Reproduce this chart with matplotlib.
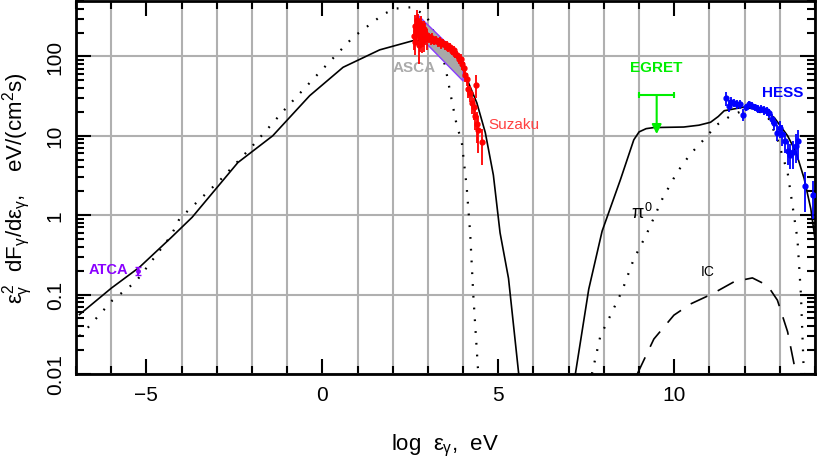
import numpy as np
import matplotlib.pyplot as plt
from matplotlib.ticker import FixedLocator, LogLocator, NullFormatter

plt.rcParams['font.family'] = ['Liberation Sans', 'DejaVu Sans']
plt.rcParams['mathtext.fontset'] = 'custom'
plt.rcParams['mathtext.rm'] = 'Liberation Sans'
plt.rcParams['mathtext.it'] = 'Liberation Sans'

# model curves (log10 E in eV, flux in eV/(cm^2 s))
tot_lo_x = [-6.9, -6.0, -5.2, -4.3, -3.7, -2.4, -1.41, -0.36, 0.59, 1.11, 1.63, 2.58, 3.06,
            3.63, 3.91, 4.15, 4.39, 4.63, 4.86, 5.05, 5.29, 5.58]
tot_lo_y = [0.056, 0.12, 0.22, 0.52, 0.94, 4.6, 10, 32, 73, 94, 121, 158, 157,
            124, 88, 47, 26, 11, 3.2, 0.6, 0.16, 0.01]
tot_hi_x = [7.19, 7.57, 7.95, 8.47, 8.85, 9.0, 9.2, 9.42, 10.27, 10.7, 11.03, 11.25, 11.42,
            11.98, 12.55, 12.84, 13.22, 13.46, 13.69, 13.88, 14.0]
tot_hi_y = [0.01, 0.117, 0.63, 2.8, 8.9, 11.2, 12.3, 12.7, 12.9, 13.6, 14.8, 17.5, 20.7,
            23, 20.7, 17, 10, 6.2, 2.9, 1.2, 0.5]
syn_x = [-6.9, -6.67, -5.96, -5.3, -4.3, -4.06, -2.92, -1.98, -1.03, -0.08, 0.87, 1.73,
         2.06, 2.54, 2.96, 3.30, 3.49, 3.67, 3.82, 3.96, 4.10, 4.20, 4.29, 4.42, 4.45]
syn_y = [0.03, 0.038, 0.085, 0.145, 0.55, 0.9, 2.72, 7.5, 22.4, 63, 174, 339,
         400, 417, 324, 151, 76, 29, 13.5, 8.5, 2.3, 0.6, 0.098, 0.012, 0.01]
pi0_x = [7.66, 7.9, 8.19, 8.52, 8.85, 9.2, 9.66, 10.08, 10.46, 10.94, 11.18, 11.6,
         12.17, 12.65, 12.93, 13.22, 13.36, 13.5, 13.6, 13.67, 13.69]
pi0_y = [0.01, 0.03, 0.055, 0.112, 0.28, 0.56, 1.6, 3.47, 5.9, 10, 13.5, 17.8,
         22.9, 17.8, 9.1, 3.47, 1.32, 0.5, 0.098, 0.014, 0.01]
ic_x = [8.95, 9.42, 9.99, 10.46, 11.08, 11.70, 12.22, 12.65, 12.93, 13.22, 13.41, 13.45]
ic_y = [0.01, 0.0275, 0.055, 0.076, 0.102, 0.145, 0.162, 0.13, 0.085, 0.034, 0.0129, 0.01]

# data
atca_x, atca_y, atca_err = [-5.25], [0.2], [0.025]
asca_band_x = [2.69, 4.0, 4.0, 2.92]
asca_band_y = [339, 92.5, 49, 151]
suz_x = [2.60, 2.62, 2.64, 2.66, 2.68, 2.70, 2.72, 2.74, 2.76, 2.78, 2.80, 2.82,
         2.84, 2.86, 2.88, 2.90, 2.93, 2.96,
         2.98, 3.03, 3.08, 3.13, 3.18, 3.23, 3.28, 3.33, 3.38, 3.43, 3.48, 3.53,
         3.58, 3.63, 3.68, 3.73, 3.78, 3.83, 3.88, 3.93, 3.98, 4.03, 4.06, 4.10,
         4.15, 4.20, 4.25, 4.30, 4.34, 4.37, 4.39, 4.41, 4.53]
suz_y = [180, 240, 150, 210, 290, 200, 260, 140, 230, 175, 250, 210,
         160, 190, 220, 165, 200, 170,
         180, 172, 165, 170, 158, 162, 150, 155, 143, 148, 138, 140,
         128, 132, 118, 120, 108, 104, 92, 94, 80, 72, 58, 52,
         39, 35, 26, 23, 18, 44, 14, 12, 8.3]
suz_err = [60, 90, 45, 70, 90, 60, 80, 60, 70, 60, 70, 70,
           50, 60, 60, 50, 60, 50,
           30, 25, 25, 25, 20, 20, 20, 20, 18, 18, 18, 16,
           15, 15, 14, 14, 13, 12, 12, 12, 12, 12, 10, 10,
           9, 8, 7, 7, 6, 14, 6, 6, 4]
egret_x, egret_lo, egret_hi = 9.5, 9.0, 10.0
egret_ul, egret_end = 32.6, 10.5
hess_x = [11.48, 11.55, 11.62, 11.70, 11.78, 11.87, 11.94, 12.03, 12.12, 12.20, 12.28,
          12.37, 12.46, 12.55, 12.63, 12.70, 12.77, 12.84, 12.92, 13.00, 13.07, 13.14,
          13.22, 13.30, 13.38, 13.46, 13.53, 13.72, 13.93]
hess_y = [30, 24, 27, 26, 25, 25, 18.5, 23, 25, 24, 23,
          22, 22, 21, 20.5, 19.5, 16.5, 14.5, 11, 12.5, 10.5, 8.5,
          6.5, 5.8, 6.2, 7.5, 8.5, 2.3, 1.8]
hess_err = [6, 4, 4, 3, 3, 3, 3, 2.5, 2.5, 2.5, 2.5,
            2.5, 2.5, 2.5, 2.5, 2.5, 2.5, 2.5, 2.5, 3, 3, 2.5,
            2.2, 2.0, 2.4, 3, 3.5, 1.2, 0.9]

fig = plt.figure(figsize=(8.17, 4.64), dpi=100)
ax = fig.add_axes([0.093, 0.192, 0.9046, 0.8038])

ax.plot(tot_lo_x, tot_lo_y, color='black', lw=1.2)
ax.plot(tot_hi_x, tot_hi_y, color='black', lw=1.2)
ax.plot(syn_x, syn_y, color='black', lw=1.6, linestyle=(0, (0.8, 4.5)))
ax.plot(pi0_x, pi0_y, color='black', lw=1.6, linestyle=(0, (0.8, 4.5)))
ax.plot(ic_x, ic_y, color='black', lw=1.2, linestyle=(0, (11, 7)))

ax.fill(asca_band_x, asca_band_y, facecolor='#a8a8a8', edgecolor='#8a3cff', lw=1, zorder=3)
ax.errorbar(suz_x, suz_y, yerr=suz_err, fmt='o', color='#ff0000', ms=3.5,
            elinewidth=1.3, capsize=0, zorder=4)
ax.errorbar(atca_x, atca_y, yerr=atca_err, fmt='o', color='#8a00ff', ms=2.5,
            elinewidth=1.5, capsize=2, zorder=4)
ax.errorbar(hess_x, hess_y, yerr=hess_err, fmt='o', color='#0000ff', ms=3.5,
            elinewidth=1.3, capsize=0, zorder=4)

green = '#00ee00'
ax.plot([egret_lo, egret_hi], [egret_ul, egret_ul], color=green, lw=1.5, zorder=4)
ax.errorbar([egret_lo, egret_hi], [egret_ul, egret_ul], yerr=[[3, 3], [3.3, 3.3]],
            fmt='none', ecolor=green, elinewidth=1.5, zorder=4)
ax.annotate('', xy=(egret_x, egret_end), xytext=(egret_x, egret_ul),
            arrowprops=dict(arrowstyle='-|>', color=green, lw=1.5,
                            mutation_scale=14, shrinkA=0, shrinkB=0), zorder=4)

ax.text(-6.63, 0.21, 'ATCA', color='#8a00ff', fontsize=10.5, fontweight='bold',
        ha='left', va='center')
ax.text(2.0, 73, 'ASCA', color='#aaaaaa', fontsize=11, fontweight='bold',
        ha='left', va='center')
ax.text(4.72, 14, 'Suzaku', color='#ff4040', fontsize=11, ha='left', va='center')
ax.text(9.5, 73, 'EGRET', color=green, fontsize=11, fontweight='bold',
        ha='center', va='center')
ax.text(13.08, 36, 'HESS', color='#0000ff', fontsize=11, fontweight='bold',
        ha='center', va='center')
ax.text(8.78, 1.1, r'$\pi^0$', color='black', fontsize=13, ha='left', va='center')
ax.text(10.75, 0.2, 'IC', color='black', fontsize=10, ha='left', va='center')

ax.set_xlim(-7, 14)
ax.set_yscale('log')
ax.set_ylim(0.01, 500)

ax.xaxis.set_major_locator(FixedLocator([-5, 0, 5, 10]))
ax.xaxis.set_minor_locator(FixedLocator(np.arange(-7, 15)))
ax.yaxis.set_major_locator(LogLocator(base=10, numticks=10))
ax.yaxis.set_minor_locator(LogLocator(base=10, subs=np.arange(2, 10), numticks=20))
ax.yaxis.set_minor_formatter(NullFormatter())
ax.set_yticks([0.01, 0.1, 1, 10, 100])
ax.set_yticklabels(['0.01', '0.1', '1', '10', '100'], rotation=90, va='center')
ax.set_xticklabels(['\u22125', '0', '5', '10'])

ax.tick_params(which='both', direction='in', top=True, right=True, width=1.5,
               labelsize=15, colors='black')
ax.tick_params(which='major', length=11, pad=8)
ax.tick_params(which='minor', length=6)
ax.grid(True, which='minor', axis='x', color='#b0b0b0', lw=1.5)
ax.grid(True, which='major', axis='y', color='#b0b0b0', lw=1.5)
ax.set_axisbelow(True)
for s in ax.spines.values():
    s.set_linewidth(2)

ax.set_xlabel(r'log  $\epsilon_\gamma$,  eV', fontsize=16, labelpad=20)
ax.set_ylabel(r'$\epsilon^2_\gamma\ \ \mathrm{dF}_\gamma/\mathrm{d}\epsilon_\gamma,\ \ \ \mathrm{eV/(cm^2s)}$',
              fontsize=16, labelpad=8)

fig.savefig('out.png', dpi=100)
